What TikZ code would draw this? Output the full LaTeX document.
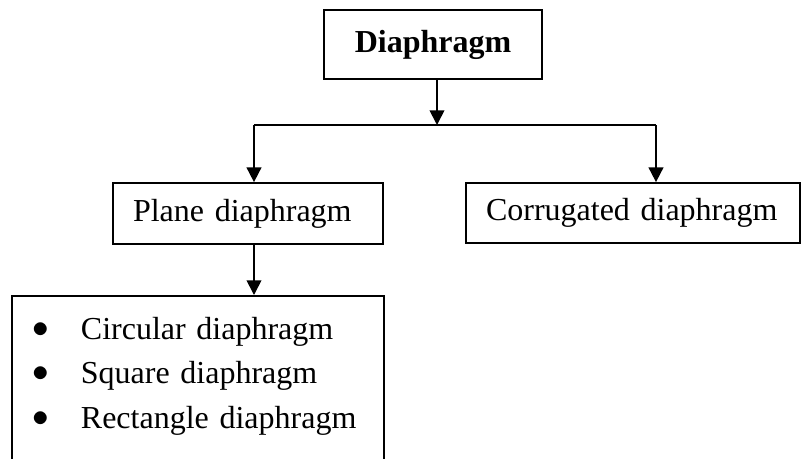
\documentclass[tikz,border=0pt]{standalone}
\usepackage{fontspec}
\setmainfont{Liberation Serif}
\usepackage{tikz}
\usetikzlibrary{arrows.meta}
\usetikzlibrary{positioning}
\tikzset{box/.style = {draw, rectangle, line width = 1.3pt, inner sep = 0,
    font = \fontsize{24}{28}\selectfont}}
\tikzset{leftbox/.style = {box, inner xsep = 15pt, align = left}}
\tikzset{line/.style = {line width = 1.3pt}}
\tikzset{conn/.style = {line, -{Triangle[width = 11pt, length = 11pt]}}}
\newcommand\listdot{\makebox[36.4pt][l]{\raisebox{1.5pt}{$\bullet$}}}

\begin{document}
\begin{tikzpicture}[x = 0.75pt, y = -0.75pt]
    \useasboundingbox (0, 0) rectangle (801, 458);
    \clip (0, 0) rectangle (801, 458);

    \node [box, minimum width = 163.5pt, minimum height = 51.75pt] (root) at (433, 44.5) {\textbf{Diaphragm}};
    \node [leftbox, text width = 172.5pt, minimum height = 45.75pt] (plane) at (248, 213.5) {Plane diaphragm};
    \node [leftbox, text width = 220.5pt, minimum height = 45pt] (corr) at (633, 213) {Corrugated diaphragm};

    \node [box, anchor = north west, inner xsep = 15.4pt, inner ysep = 15.75pt,
      text width = 248.2pt, align = left, font = \fontsize{24}{33.4}\selectfont] (list) at (11, 295) {%
      \listdot Circular diaphragm\\
      \listdot Square diaphragm\\
      \listdot Rectangle diaphragm\\
      \mbox{}\\
      \mbox{}};

    % forks of the tree
    \coordinate (fork) at (437, 125);
    \coordinate (lfork) at (254, 125);
    \coordinate (rfork) at (656, 125);

    \draw [conn] (root.south -| fork) -- (fork);
    \draw [line] (lfork) -- (rfork);
    \draw [conn] (lfork) -- (lfork |- plane.north);
    \draw [conn] (rfork) -- (rfork |- corr.north);
    \draw [conn] (plane.south -| lfork) -- (lfork |- list.north);
  \end{tikzpicture}
\end{document}
